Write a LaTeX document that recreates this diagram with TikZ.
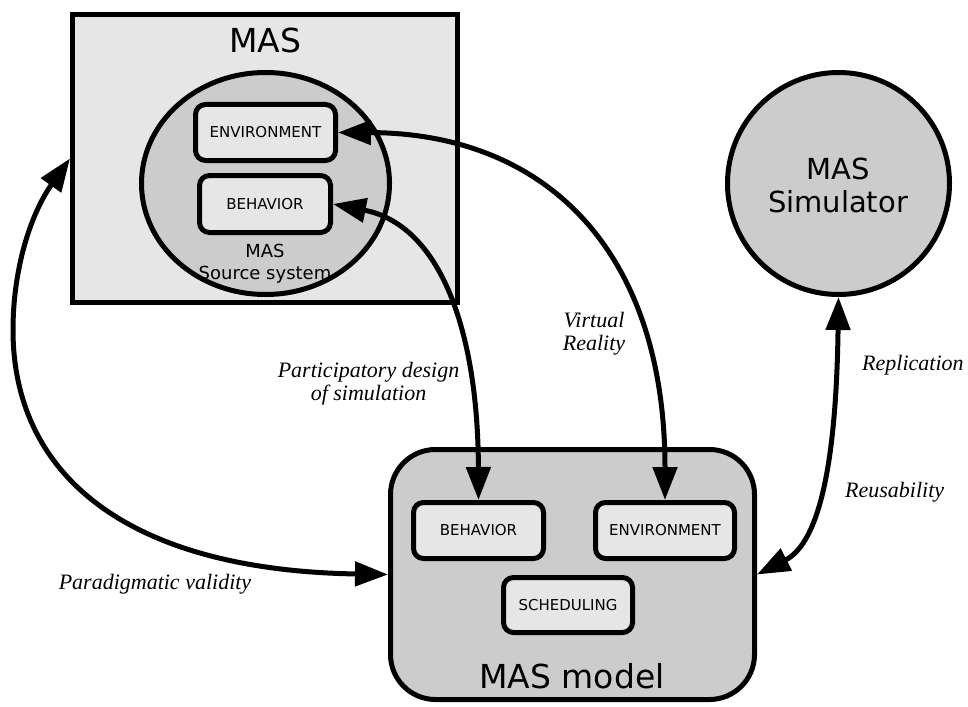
\documentclass[tikz,border=0pt]{standalone}
\usepackage{fontspec}
\setmainfont{Liberation Serif}
\setsansfont{DejaVu Sans}
\usetikzlibrary{arrows.meta,shapes.geometric}
\definecolor{lightfill}{HTML}{E6E6E6}
\definecolor{midfill}{HTML}{CCCCCC}
\tikzset{
  frame/.style={draw=black, line width=5pt, inner sep=0pt},
  part/.style={frame, fill=lightfill, rounded corners=10pt,
    font=\sffamily\fontsize{15}{18}\selectfont},
  link/.style={line width=5pt,
    {Triangle[length=33pt,width=24pt]}-{Triangle[length=33pt,width=24pt]}},
  lbl/.style={font=\itshape\fontsize{22}{23}\selectfont, align=center, inner sep=0pt},
  bigsans/.style={font=\sffamily\fontsize{33}{38}\selectfont, inner sep=0pt}
}
\begin{document}
\begin{tikzpicture}[x=1pt,y=-1pt]
\useasboundingbox (0,0) rectangle (968,706);

% MAS source system
\node[frame, fill=lightfill, minimum width=385pt, minimum height=288pt] (mas) at (265,158.5) {};
\node[bigsans, anchor=base] (mastitle) at (265,53) {MAS};
\node[frame, fill=midfill, ellipse, minimum width=248pt, minimum height=222pt] (source) at (265.5,183.5) {};
\node[part, minimum width=140pt, minimum height=56pt] (srcenv) at (265.5,132.5) {ENVIRONMENT};
\node[part, minimum width=131pt, minimum height=57pt] (srcbeh) at (265,204) {BEHAVIOR};
\node[font=\sffamily\fontsize{18}{22}\selectfont, align=center, inner sep=0pt] (srclabel) at (265,264) {MAS\\Source system};

% MAS simulator
\node[frame, fill=midfill, circle, minimum size=222pt] (sim) at (838.5,183.5) {};
\node[font=\sffamily\fontsize{29}{33}\selectfont, align=center, inner sep=0pt] (simtext) at (838,185) {MAS\\Simulator};

% MAS model
\node[frame, fill=midfill, rounded corners=45pt, minimum width=364pt, minimum height=250pt] (model) at (572.5,574.5) {};
\node[part, minimum width=130pt, minimum height=56pt] (mbeh) at (478.5,530.5) {BEHAVIOR};
\node[part, minimum width=139pt, minimum height=56pt] (menv) at (665,530.5) {ENVIRONMENT};
\node[part, minimum width=129pt, minimum height=55pt] (msched) at (568,605) {SCHEDULING};
\node[bigsans, anchor=base] (modeltitle) at (572,688) {MAS model};

% relations
\coordinate (leftbend) at (13,330);
\draw[link] (mas.west) .. controls (30,215) and (13,270) .. (leftbend)
  .. controls (13,470) and (120,570) .. (model.west);
\draw[link] (srcbeh.east) .. controls (440,225) and (478,330) .. (mbeh.north);
\draw[link] (srcenv.east) .. controls (545,133) and (665,250) .. (menv.north);
\draw[link] (sim.south) .. controls (836,480) and (815,545) .. (model.east);

% labels (base anchor sits on the last line)
\node[lbl, anchor=base] (lparadigm) at (155,589) {Paradigmatic validity};
\node[lbl, anchor=base] (lpartic) at (368.5,400) {Participatory design\\of simulation};
\node[lbl, anchor=base] (lvirtual) at (594,350) {Virtual\\Reality};
\node[lbl, anchor=base west] (lrepl) at (862,370) {Replication};
\node[lbl, anchor=base west] (lreuse) at (845,497) {Reusability};
\end{tikzpicture}
\end{document}
